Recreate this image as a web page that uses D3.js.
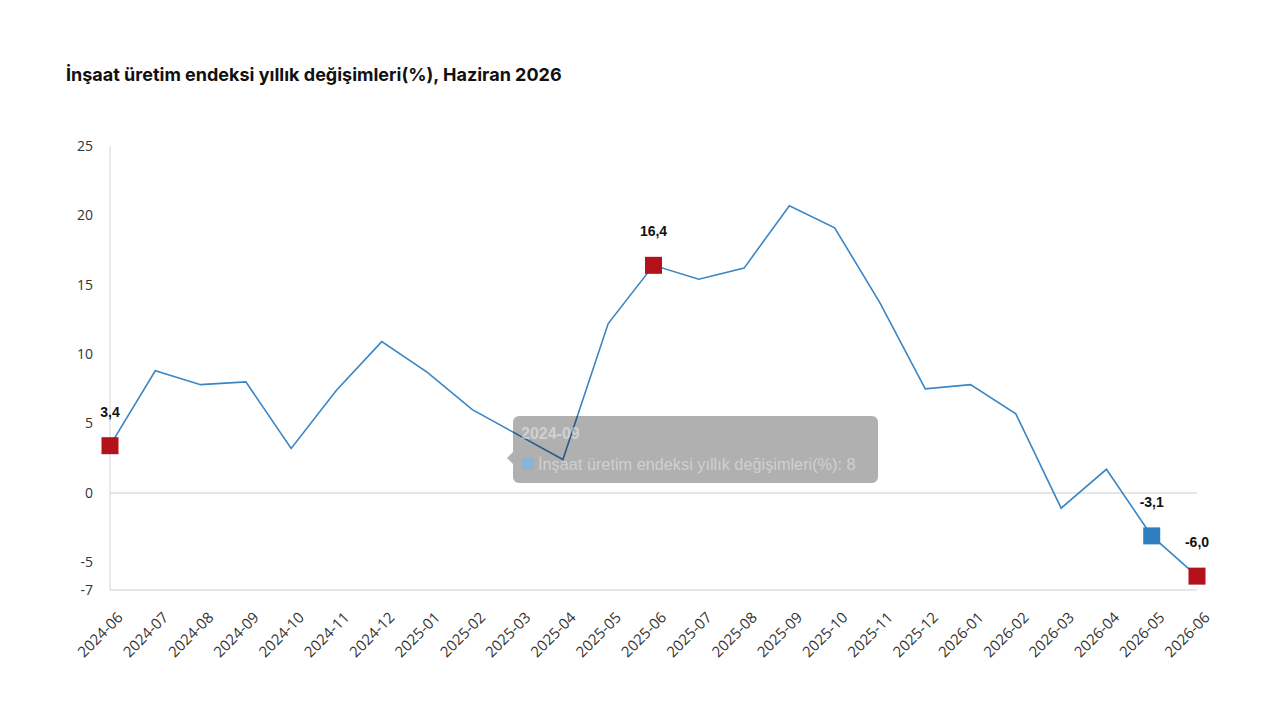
<!DOCTYPE html>
<html>
<head>
<meta charset="utf-8">
<script src="https://cdn.jsdelivr.net/npm/d3@7"></script>
<style>
  body { margin: 0; background: #fff; }
  svg { display: block; }
</style>
</head>
<body>
<div id="chart"></div>
<script>
const WIDTH = 1280;
const HEIGHT = 720;

const months = ["2024-06","2024-07","2024-08","2024-09","2024-10","2024-11","2024-12",
  "2025-01","2025-02","2025-03","2025-04","2025-05","2025-06","2025-07","2025-08",
  "2025-09","2025-10","2025-11","2025-12","2026-01","2026-02","2026-03","2026-04",
  "2026-05","2026-06"];
const values = [3.4, 8.8, 7.8, 8.0, 3.2, 7.4, 10.9, 8.7, 6.0, 4.2, 2.4, 12.2, 16.4,
  15.4, 16.2, 20.7, 19.1, 13.7, 7.5, 7.8, 5.7, -1.1, 1.7, -3.1, -6.0];
const yTicks = [25, 20, 15, 10, 5, 0, -5, -7];
const highlighted = ["2024-06", "2025-06", "2026-05", "2026-06"];
const highlightColor = { "2026-05": "#2f7ebf" };

const title = "İnşaat üretim endeksi yıllık değişimleri(%), Haziran 2026";
const seriesName = "İnşaat üretim endeksi yıllık değişimleri(%)";

const margin = { left: 110, right: 83, top: 146, bottom: 130 };

const svg = d3.select("#chart").append("svg")
  .attr("width", WIDTH)
  .attr("height", HEIGHT);

const x = d3.scalePoint()
  .domain(months)
  .range([margin.left, WIDTH - margin.right]);

const y = d3.scaleLinear()
  .domain([-7, 25])
  .range([HEIGHT - margin.bottom, margin.top]);

svg.append("text")
  .attr("x", 66)
  .attr("y", 81)
  .attr("font-family", "Inter, Roboto, sans-serif")
  .attr("font-weight", 700)
  .attr("font-size", 18)
  .attr("fill", "#111")
  .text(title);

// grid / axis lines
svg.append("line")
  .attr("x1", x(months[0])).attr("x2", x(months[0]))
  .attr("y1", y(25)).attr("y2", y(-7))
  .attr("stroke", "#e3e3e3").attr("stroke-width", 1.5);

[0, -7].forEach(v => {
  svg.append("line")
    .attr("x1", x(months[0])).attr("x2", x(months[months.length - 1]))
    .attr("y1", y(v)).attr("y2", y(v))
    .attr("stroke", "#dedede").attr("stroke-width", 1.5);
});

// y axis
const yAxis = svg.append("g")
  .attr("transform", `translate(${93},0)`)
  .call(d3.axisLeft(y).tickValues(yTicks).tickSize(0).tickPadding(0)
    .tickFormat(d => String(d)));
yAxis.select(".domain").remove();
yAxis.selectAll("text")
  .attr("font-family", "'Open Sans', sans-serif")
  .attr("font-size", 14)
  .attr("fill", "#333");

// x axis
const xAxis = svg.append("g")
  .attr("transform", `translate(0,${y(-7) + 19})`)
  .call(d3.axisBottom(x).tickSize(0).tickPadding(0));
xAxis.select(".domain").remove();
xAxis.selectAll("text")
  .attr("font-family", "'Open Sans', sans-serif")
  .attr("font-size", 15)
  .attr("fill", "#333")
  .attr("text-anchor", "end")
  .attr("dy", "0.7em")
  .attr("transform", "translate(6,2) rotate(-45)");

// line
const line = d3.line()
  .x((d, i) => x(months[i]))
  .y(d => y(d));

svg.append("path")
  .datum(values)
  .attr("d", line)
  .attr("fill", "none")
  .attr("stroke", "#3a86c4")
  .attr("stroke-width", 1.6);

// markers and labels
const marked = months.map((m, i) => ({ m, v: values[i] }))
  .filter(d => highlighted.includes(d.m));

svg.selectAll("rect.marker").data(marked).enter()
  .append("rect")
  .attr("class", "marker")
  .attr("x", d => x(d.m) - 8.5)
  .attr("y", d => y(d.v) - 8.5)
  .attr("width", 17)
  .attr("height", 17)
  .attr("fill", d => highlightColor[d.m] || "#b3121c");

svg.selectAll("text.dlabel").data(marked).enter()
  .append("text")
  .attr("class", "dlabel")
  .attr("x", d => x(d.m))
  .attr("y", d => y(d.v) - 29)
  .attr("text-anchor", "middle")
  .attr("font-family", "'Liberation Sans', Arial, sans-serif")
  .attr("font-weight", 700)
  .attr("font-size", 14)
  .attr("fill", "#111")
  .text(d => d.v.toFixed(1).replace(".", ","));

// faded tooltip
const tipMonth = "2024-09";
const tipValue = values[months.indexOf(tipMonth)];
const tip = svg.append("g").attr("transform", "translate(513,416)");
tip.append("path")
  .attr("d", "M0,36 L-6,42 L0,48 Z")
  .attr("fill", "rgba(0,0,0,0.31)");
tip.append("rect")
  .attr("width", 365).attr("height", 67).attr("rx", 6)
  .attr("fill", "rgba(0,0,0,0.31)");
tip.append("text")
  .attr("x", 8).attr("y", 23)
  .attr("font-family", "'Liberation Sans', Arial, sans-serif")
  .attr("font-weight", 700)
  .attr("font-size", 16)
  .attr("fill", "rgba(255,255,255,0.42)")
  .text(tipMonth);
tip.append("rect")
  .attr("x", 9).attr("y", 42).attr("width", 12).attr("height", 12)
  .attr("fill", "rgba(130,180,220,0.8)");
tip.append("text")
  .attr("x", 25).attr("y", 54)
  .attr("font-family", "'Liberation Sans', Arial, sans-serif")
  .attr("font-size", 16.3)
  .attr("fill", "rgba(255,255,255,0.42)")
  .text(`${seriesName}: ${tipValue.toFixed(0)}`);
</script>
</body>
</html>
